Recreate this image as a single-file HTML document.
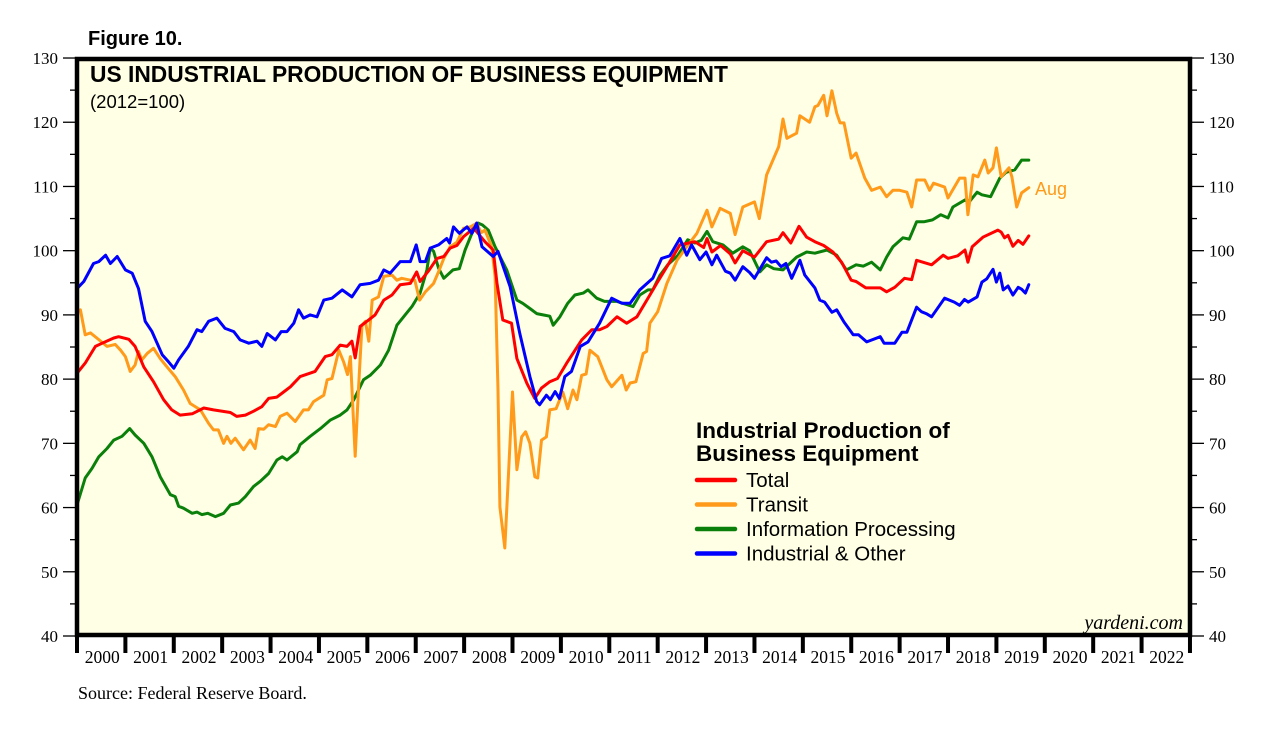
<!DOCTYPE html>
<html><head><meta charset="utf-8"><style>
html,body{margin:0;padding:0;background:#fff;}
body{width:1281px;height:741px;overflow:hidden;position:relative;font-family:"Liberation Sans",sans-serif;}
</style></head>
<body>
<svg id="chart" width="1281" height="741" viewBox="0 0 1281 741" xmlns="http://www.w3.org/2000/svg">
<rect x="77" y="58" width="1113" height="578" fill="#FFFFE5"/>
<g id="series"></g>
<rect x="77" y="59" width="1113" height="576" fill="none" stroke="#000" stroke-width="4.5"/>
<g id="axes"></g>
<text x="88" y="45" font-family="Liberation Sans" font-weight="bold" font-size="20">Figure 10.</text>
<text x="90" y="82" font-family="Liberation Sans" font-weight="bold" font-size="22.8">US INDUSTRIAL PRODUCTION OF BUSINESS EQUIPMENT</text>
<text x="90" y="108" font-family="Liberation Sans" font-size="18.5">(2012=100)</text>
<text x="1035" y="195" font-family="Liberation Sans" font-size="18" fill="#FF9A1A">Aug</text>
<text x="1183" y="629" text-anchor="end" font-family="Liberation Serif" font-style="italic" font-size="20">yardeni.com</text>
<text x="78" y="699" font-family="Liberation Serif" font-size="18">Source: Federal Reserve Board.</text>
<g>
<text x="696" y="438" font-family="Liberation Sans" font-weight="bold" font-size="22.5">Industrial Production of</text>
<text x="696" y="461" font-family="Liberation Sans" font-weight="bold" font-size="22.5">Business Equipment</text>
<g id="legend-entries"></g>
</g>
</svg>
<script>
const yTicks = [40,50,60,70,80,90,100,110,120,130];
const years = [2000,2001,2002,2003,2004,2005,2006,2007,2008,2009,2010,2011,2012,2013,2014,2015,2016,2017,2018,2019,2020,2021,2022];
const seriesNames = ["Total","Transit","Information Processing","Industrial & Other"];

const totalDates = [2000,2000.17,2000.38,2000.52,2000.76,2000.86,2001.07,2001.2,2001.38,2001.58,2001.79,2001.96,2002.13,2002.38,2002.62,2002.82,2003.17,2003.3,2003.48,2003.65,2003.82,2003.96,2004.13,2004.27,2004.41,2004.61,2004.92,2005.13,2005.27,2005.44,2005.58,2005.68,2005.75,2005.85,2005.99,2006.16,2006.34,2006.51,2006.68,2006.89,2007.02,2007.09,2007.27,2007.44,2007.58,2007.71,2007.85,2007.99,2008.2,2008.43,2008.6,2008.68,2008.8,2008.98,2009.09,2009.3,2009.46,2009.6,2009.77,2009.93,2010.12,2010.43,2010.64,2010.8,2010.95,2011.16,2011.36,2011.57,2011.84,2011.98,2012.19,2012.46,2012.77,2012.95,2013.02,2013.12,2013.3,2013.5,2013.6,2013.76,2014.0,2014.25,2014.5,2014.59,2014.75,2014.92,2015.08,2015.25,2015.43,2015.62,2015.8,2016.0,2016.1,2016.3,2016.6,2016.73,2016.9,2017.1,2017.25,2017.35,2017.66,2017.9,2018.0,2018.2,2018.35,2018.41,2018.5,2018.72,2019.03,2019.1,2019.17,2019.24,2019.34,2019.45,2019.55,2019.67];
const totalValues = [80.9,82.5,85.1,85.6,86.4,86.6,86.2,85.1,81.9,79.6,76.8,75.2,74.4,74.6,75.5,75.2,74.8,74.2,74.4,75,75.7,77,77.2,78,78.8,80.4,81.2,83.5,83.8,85.3,85.1,85.9,83.3,88.2,89,90,92.3,93.1,94.7,94.9,96.7,95.2,96.9,98.8,99.1,100.4,100.8,102.2,103.5,101.4,100.1,94.9,89.2,88.7,83.2,79.3,77,78.6,79.6,80.1,82.5,86.1,87.7,87.7,88.2,89.7,88.7,89.7,93.1,94.9,97.5,100.9,101.4,100.5,101.9,99.8,100.8,99.5,98.1,100,99,101.4,101.8,102.8,101.2,103.8,102.1,101.4,100.8,99.8,98.2,95.4,95.2,94.2,94.2,93.6,94.3,95.7,95.5,98.5,97.8,99.3,98.8,99.2,100.1,98.2,100.6,102.1,103.2,102.9,102,102.4,100.7,101.6,101,102.3];

const transitDates = [2000,2000.07,2000.17,2000.28,2000.41,2000.62,2000.79,2000.9,2001,2001.1,2001.2,2001.27,2001.34,2001.45,2001.58,2001.72,2001.86,2002.03,2002.2,2002.34,2002.55,2002.72,2002.82,2002.92,2003.03,2003.1,2003.18,2003.27,2003.44,2003.58,2003.68,2003.75,2003.86,2003.96,2004.1,2004.2,2004.34,2004.51,2004.68,2004.78,2004.89,2005.1,2005.17,2005.27,2005.41,2005.51,2005.59,2005.65,2005.75,2005.82,2005.89,2005.96,2006.03,2006.1,2006.23,2006.34,2006.51,2006.61,2006.71,2006.89,2006.98,2007.08,2007.2,2007.37,2007.47,2007.58,2007.71,2007.85,2007.99,2008.13,2008.26,2008.35,2008.43,2008.57,2008.64,2008.7,2008.74,2008.84,2008.9,2009,2009.09,2009.19,2009.27,2009.36,2009.46,2009.52,2009.6,2009.7,2009.77,2009.9,2010.04,2010.14,2010.25,2010.33,2010.43,2010.52,2010.6,2010.76,2010.95,2011.05,2011.26,2011.35,2011.43,2011.55,2011.7,2011.77,2011.84,2012,2012.19,2012.4,2012.6,2012.81,2013.02,2013.12,2013.29,2013.5,2013.6,2013.76,2014,2014.1,2014.25,2014.5,2014.59,2014.67,2014.87,2014.94,2015.14,2015.25,2015.31,2015.43,2015.5,2015.6,2015.7,2015.77,2015.85,2016,2016.1,2016.28,2016.42,2016.6,2016.73,2016.86,2017,2017.15,2017.25,2017.35,2017.52,2017.62,2017.7,2017.93,2018,2018.24,2018.35,2018.41,2018.52,2018.62,2018.76,2018.83,2018.93,2019,2019.1,2019.26,2019.32,2019.42,2019.52,2019.67];
const transitValues = [90.5,90.8,86.9,87.2,86.4,85.1,85.4,84.5,83.5,81.2,82.2,84.3,83,84,84.8,83.2,81.9,80.4,78.3,76.2,75.2,73.1,72.1,72.1,70,71.1,70,70.8,69,70.5,69.2,72.3,72.2,72.9,72.6,74.2,74.7,73.4,75.2,75.2,76.5,77.5,79.9,80.1,84.5,82.7,80.7,83.5,68,78.8,88.4,89,85.9,92.3,92.8,96,96.2,95.4,95.7,95.4,95.4,92.3,93.6,94.9,96.7,98.8,100.6,101.3,103.5,103.7,104.3,102.8,103.2,100.6,96,78.3,60.1,53.7,62.7,78,65.9,71,71.8,70,64.8,64.6,70.5,71,75.2,75.4,78,75.4,78.3,76.8,80.6,80.8,84.5,83.5,79.9,78.8,80.6,78.3,79.4,79.6,84,84.3,88.7,90.5,94.9,98.5,100.6,102.7,106.3,103.7,106.6,105.8,102.5,106.8,107.6,105,111.8,116.2,120.5,117.5,118.3,121,120,122.4,122.6,124.2,121,124.9,121.4,119.9,119.9,114.4,115.2,111.3,109.4,109.9,108.4,109.4,109.4,109.1,106.8,111,111,109.4,110.5,109.9,108.2,111.3,111.3,105.6,111.8,111.5,114.1,112.1,112.9,116,111.5,112.9,111.5,106.8,109,109.8];

const infoDates = [2000,2000.17,2000.31,2000.45,2000.62,2000.76,2000.93,2001.09,2001.2,2001.38,2001.55,2001.72,2001.93,2002.03,2002.1,2002.2,2002.38,2002.48,2002.58,2002.7,2002.86,2003.03,2003.17,2003.34,2003.48,2003.65,2003.79,2003.96,2004.13,2004.24,2004.34,2004.55,2004.61,2004.82,2005.03,2005.23,2005.44,2005.58,2005.72,2005.92,2006.06,2006.27,2006.44,2006.61,2006.78,2006.92,2007.09,2007.23,2007.3,2007.37,2007.47,2007.58,2007.77,2007.9,2008.02,2008.16,2008.29,2008.38,2008.5,2008.64,2008.88,2009.09,2009.21,2009.36,2009.5,2009.63,2009.77,2009.84,2009.98,2010.14,2010.29,2010.46,2010.56,2010.74,2010.9,2011.16,2011.28,2011.49,2011.63,2011.8,2011.9,2012.05,2012.21,2012.31,2012.42,2012.62,2012.77,2012.9,2013.02,2013.14,2013.35,2013.55,2013.76,2013.9,2014.11,2014.25,2014.4,2014.59,2014.87,2015.08,2015.25,2015.5,2015.7,2015.9,2016.1,2016.25,2016.42,2016.6,2016.73,2016.86,2017.07,2017.2,2017.35,2017.5,2017.68,2017.85,2018,2018.1,2018.35,2018.45,2018.6,2018.7,2018.88,2019.07,2019.2,2019.38,2019.52,2019.67];
const infoValues = [60.4,64.6,66.1,67.9,69.2,70.5,71.1,72.3,71.3,70,67.9,64.8,62,61.7,60.2,59.9,59.1,59.3,58.9,59.1,58.6,59.1,60.4,60.7,61.7,63.3,64.1,65.3,67.4,67.9,67.4,68.7,69.8,71.1,72.3,73.6,74.4,75.2,76.8,79.9,80.6,82.2,84.5,88.4,90,91.3,93.4,97,100.4,99.9,97.3,95.7,97,97.2,100.1,102.7,104.3,104,103.2,100.6,97,92.3,91.8,91,90.2,90,89.8,88.4,89.7,91.8,93.1,93.4,93.9,92.6,92.1,92.1,91.8,91.3,93.1,93.9,93.9,96.2,97.8,98.5,99.3,101.7,101.2,101.6,103,101.4,100.9,99.6,100.6,100,96.7,97.8,97.2,97,99,99.8,99.6,100.1,99.3,97,97.8,97.6,98.2,97,99,100.6,102,101.8,104.5,104.5,104.8,105.6,105.1,106.8,107.9,107.7,109.1,108.7,108.4,111.3,112.2,112.6,114.1,114.1];

const indDates = [2000,2000.14,2000.34,2000.45,2000.59,2000.69,2000.83,2001,2001.14,2001.27,2001.41,2001.55,2001.76,2001.89,2002,2002.1,2002.3,2002.48,2002.58,2002.72,2002.89,2003.06,2003.24,2003.37,2003.55,2003.72,2003.82,2003.93,2004.1,2004.22,2004.34,2004.48,2004.58,2004.68,2004.82,2004.96,2005.1,2005.27,2005.48,2005.68,2005.85,2006.06,2006.23,2006.34,2006.47,2006.68,2006.89,2007.01,2007.09,2007.2,2007.3,2007.47,2007.64,2007.7,2007.78,2007.9,2008.06,2008.16,2008.26,2008.37,2008.6,2008.7,2008.95,2009.15,2009.36,2009.5,2009.56,2009.7,2009.78,2009.88,2009.97,2010.08,2010.22,2010.4,2010.56,2010.8,2011.05,2011.26,2011.43,2011.63,2011.9,2012.08,2012.25,2012.46,2012.6,2012.7,2012.87,2013.0,2013.12,2013.22,2013.4,2013.5,2013.6,2013.76,2013.9,2014.0,2014.25,2014.35,2014.45,2014.55,2014.65,2014.77,2014.94,2015.04,2015.25,2015.35,2015.45,2015.6,2015.7,2015.85,2016.04,2016.15,2016.32,2016.6,2016.68,2016.9,2017.05,2017.15,2017.35,2017.45,2017.55,2017.66,2017.93,2018.13,2018.24,2018.34,2018.42,2018.6,2018.7,2018.8,2018.93,2019.0,2019.07,2019.14,2019.24,2019.34,2019.45,2019.52,2019.6,2019.67];
const indValues = [94.1,95.2,98,98.3,99.3,98,99.1,97,96.5,94.1,89,87.4,83.8,82.7,81.7,83,85.1,87.7,87.4,89,89.5,87.9,87.4,86.1,85.6,85.9,85.1,87.1,86.1,87.4,87.4,88.7,90.8,89.5,90,89.7,92.3,92.6,93.9,92.8,94.7,94.9,95.4,97,96.5,98.3,98.3,100.9,98.3,98.3,100.4,100.9,101.9,101.2,103.7,102.7,103.7,102.7,104.3,100.6,99.1,99.9,94.4,87.1,80.4,76.5,76,77.5,76.8,78.05,77,80.4,81.2,85.1,85.8,88.7,92.6,91.8,91.8,93.9,95.7,98.8,99.2,101.9,99.3,100.9,98.6,99.8,97.8,99.3,96.8,96.5,95.4,97.5,96.6,95.7,98.9,98.2,98.4,97.5,98,95.7,98.5,96.2,94.2,92.3,92,90.4,90.8,88.9,86.9,86.9,85.8,86.6,85.6,85.6,87.3,87.3,91.2,90.5,90.2,89.7,92.6,92,91.5,92.4,92,92.8,95.1,95.6,97.1,95.1,96.5,93.9,94.5,93.1,94.3,94,93.4,94.7];

const X0 = 77, YEARW = 48.39, Y0 = 636, UNIT = 6.422;
function xScale(t){ return X0 + (t - 2000) * YEARW; }
function yScale(v){ return Y0 - (v - 40) * UNIT; }
const NS = "http://www.w3.org/2000/svg";
function mk(tag, attrs, parent){ const e = document.createElementNS(NS, tag); for (const k in attrs) e.setAttribute(k, attrs[k]); parent.appendChild(e); return e; }

const axes = document.getElementById('axes');
for (let v = 40; v <= 130; v += 5) {
  const y = yScale(v);
  const major = (v % 10 === 0);
  const tl = mk('line', {x1: major ? 63 : 70, x2: 77, y1: y, y2: y, stroke: '#000', 'stroke-width': 1.3}, axes);
  
  
  const tr = mk('line', {x1: 1190, x2: major ? 1204 : 1197, y1: y, y2: y, stroke: '#000', 'stroke-width': 1.3}, axes);
  
  
}
yTicks.forEach(v => {
  const y = yScale(v);
  const l = mk('text', {x: 58, y: y + 6, 'text-anchor': 'end', 'font-family': 'Liberation Serif', 'font-size': 17}, axes);
  l.textContent = v;
  
  
  const r = mk('text', {x: 1209, y: y + 6, 'font-family': 'Liberation Serif', 'font-size': 17}, axes);
  r.textContent = v;
  
  
});
for (let i = 0; i <= years.length; i++) {
  const x = xScale(2000 + i);
  const t = mk('line', {x1: x, x2: x, y1: 636, y2: 653, stroke: '#000', 'stroke-width': 4}, axes);
  
  
}
years.forEach((yr) => {
  const l = mk('text', {x: xScale(yr + 0.5) + 1, y: 663, 'text-anchor': 'middle', 'font-family': 'Liberation Serif', 'font-size': 17.5}, axes);
  l.textContent = yr;
  
  
});

const colors = ['#FF0000', '#FF9A1A', '#0A800A', '#0000FF'];
const allDates = [totalDates, transitDates, infoDates, indDates];
const allValues = [totalValues, transitValues, infoValues, indValues];
const lineNames = ['line-total', 'line-transit', 'line-information-processing', 'line-industrial-other'];
const order = [2, 1, 0, 3];
const sg = document.getElementById('series');
order.forEach(i => {
  const d = allDates[i].map((t, k) => (k ? 'L' : 'M') + xScale(t).toFixed(1) + ',' + yScale(allValues[i][k]).toFixed(1)).join(' ');
  const p = mk('path', {d: d, fill: 'none', stroke: colors[i], 'stroke-width': 3, 'stroke-linejoin': 'round', 'stroke-linecap': 'round'}, sg);
  
  
});

const lg = document.getElementById('legend-entries');
seriesNames.forEach((name, i) => {
  const y = 480 + i * 24.5;
  const g = mk('g', {}, lg);
  
  
  mk('line', {x1: 697, x2: 735, y1: y, y2: y, stroke: colors[i], 'stroke-width': 4.5, 'stroke-linecap': 'round'}, g);
  const t = mk('text', {x: 746, y: y + 7, 'font-family': 'Liberation Sans', 'font-size': 20.5}, g);
  t.textContent = name;
});
</script>
</body></html>
